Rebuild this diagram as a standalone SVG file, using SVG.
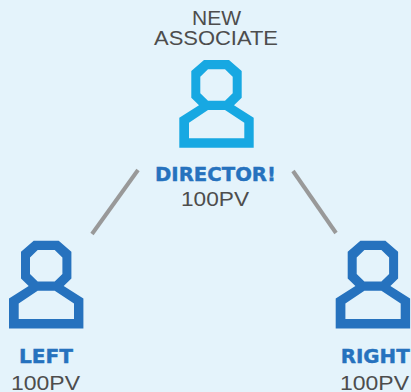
<svg xmlns="http://www.w3.org/2000/svg" width="411" height="392" viewBox="0 0 411 392">
<style>
.l{font-family:"Liberation Sans",Arial,sans-serif;font-size:19.5px;fill:#4d4d4d}
.b{font-family:"DejaVu Sans",sans-serif;font-size:19.2px;font-weight:bold;fill:#2672be;stroke:#2672be;stroke-width:.4px}
.c{stroke:#999;stroke-width:4;fill:none}
</style>
<defs>
<path id="p" fill-rule="evenodd" d="M204 60H229L241.7 71V97.7L234 105.3L253.7 117.7V147.7H179.3V117.7L199 105.3L191.3 97.7V71ZM208 69.3L200.3 76.7V93.3L208 100.7H225L232.7 93.3V76.7L225 69.3ZM208 110L189 122.7V138.3H244.3V122.7L225 110Z"/>
</defs>
<rect width="411" height="392" fill="#e4f3fb"/>
<g id="connectors">
<line class="c" x1="138" y1="170" x2="92" y2="234"/>
<line class="c" x1="293" y1="171" x2="336" y2="233"/>
</g>
<g id="director">
<use href="#p" fill="#17a8e2"/>
<text class="l" x="192" y="24.5" textLength="49" lengthAdjust="spacingAndGlyphs">NEW</text>
<text class="l" x="154" y="44.7" textLength="124" lengthAdjust="spacingAndGlyphs">ASSOCIATE</text>
<text class="b" x="155" y="180.7" textLength="121" lengthAdjust="spacingAndGlyphs">DIRECTOR!</text>
<text class="l" x="181" y="206" textLength="68" lengthAdjust="spacingAndGlyphs">100PV</text>
</g>
<g id="left">
<use href="#p" x="-170.3" y="180.7" fill="#2672be"/>
<text class="b" x="19" y="362.7" textLength="54" lengthAdjust="spacingAndGlyphs">LEFT</text>
<text class="l" x="11" y="389.5" textLength="69" lengthAdjust="spacingAndGlyphs">100PV</text>
</g>
<g id="right">
<use href="#p" x="156.4" y="180.7" fill="#2672be"/>
<text class="b" x="340.7" y="362.7" textLength="69" lengthAdjust="spacingAndGlyphs">RIGHT</text>
<text class="l" x="340" y="389.5" textLength="69" lengthAdjust="spacingAndGlyphs">100PV</text>
</g>
</svg>
